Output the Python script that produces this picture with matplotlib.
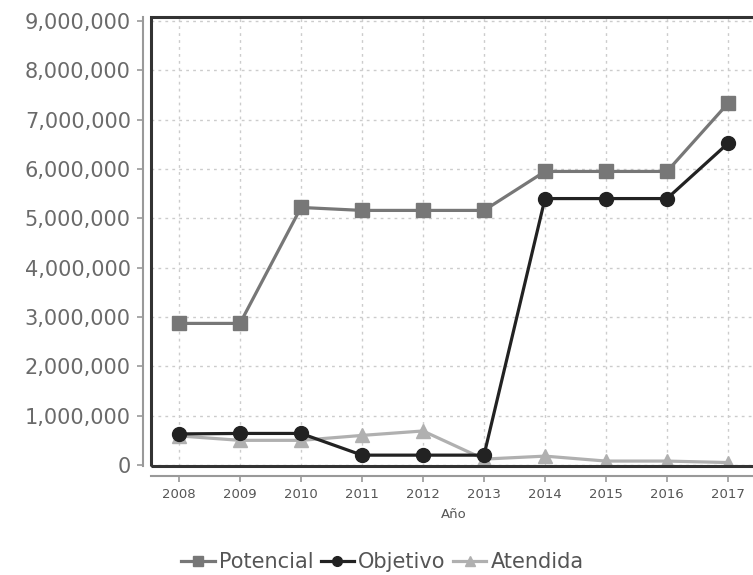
import matplotlib
matplotlib.use("Agg")
import matplotlib.pyplot as plt
from matplotlib.patches import Rectangle
from matplotlib.ticker import FuncFormatter

years = [2008, 2009, 2010, 2011, 2012, 2013, 2014, 2015, 2016, 2017]
potencial = [2870000, 2870000, 5220000, 5160000, 5160000, 5160000, 5950000, 5950000, 5950000, 7330000]
objetivo = [630000, 640000, 640000, 200000, 200000, 200000, 5400000, 5400000, 5400000, 6520000]
atendida = [590000, 500000, 500000, 600000, 690000, 120000, 180000, 80000, 80000, 50000]
series_names = ["Potencial", "Objetivo", "Atendida"]
y_ticks = [0, 1000000, 2000000, 3000000, 4000000, 5000000, 6000000, 7000000, 8000000, 9000000]

plt.rcParams['font.family'] = ['DejaVu Sans']

fig = plt.figure(figsize=(7.53, 5.75), dpi=100)
ax = fig.add_axes([151/753, 1 - 466/575, (756 - 151)/753, (466 - 17)/575])

ax.set_xlim(2008 - 28/61, 2017 + 28/61)
ax.set_ylim(-20000, 9080000)

ax.plot(years, potencial, color="#777777", lw=2.3, marker="s", ms=10, label=series_names[0], zorder=3)
ax.plot(years, objetivo, color="#222222", lw=2.3, marker="o", ms=10, label=series_names[1], zorder=4)
ax.plot(years, atendida, color="#b0b0b0", lw=2.3, marker="^", ms=10, label=series_names[2], zorder=2)

ax.set_xticks(years)
ax.set_yticks(y_ticks)
ax.yaxis.set_major_formatter(FuncFormatter(lambda v, p: f"{int(v):,}"))
ax.grid(True, color="#cccccc", linestyle=(0, (2, 3)), lw=1)

for s in ["top", "right"]:
    ax.spines[s].set_visible(False)
ax.spines["left"].set_position(("outward", 5.5))
ax.spines["bottom"].set_position(("outward", 7))
for s in ["left", "bottom"]:
    ax.spines[s].set_color("#999999")
    ax.spines[s].set_linewidth(1.5)

border = Rectangle((0, 0), 1, 1, transform=ax.transAxes, fill=False,
                   edgecolor="#333333", lw=2.2, clip_on=False, zorder=5)
ax.add_patch(border)

ax.tick_params(axis="y", labelsize=15, labelcolor="#6a6a6a", color="#999999", length=4, width=1.2, pad=5)
ax.tick_params(axis="x", labelsize=9.5, labelcolor="#555555", color="#999999", length=4, width=1.2, pad=5)
ax.set_xlabel("Año", fontsize=9.5, color="#555555", labelpad=5)

handles, labels = ax.get_legend_handles_labels()
fig.legend(handles, labels, loc="center", bbox_to_anchor=(0.508, 0.022), ncol=3,
           frameon=False, fontsize=15, handlelength=1.6, handletextpad=0.2,
           columnspacing=0.35, labelcolor="#555555", markerscale=0.7)

fig.savefig("out.png", dpi=100)
